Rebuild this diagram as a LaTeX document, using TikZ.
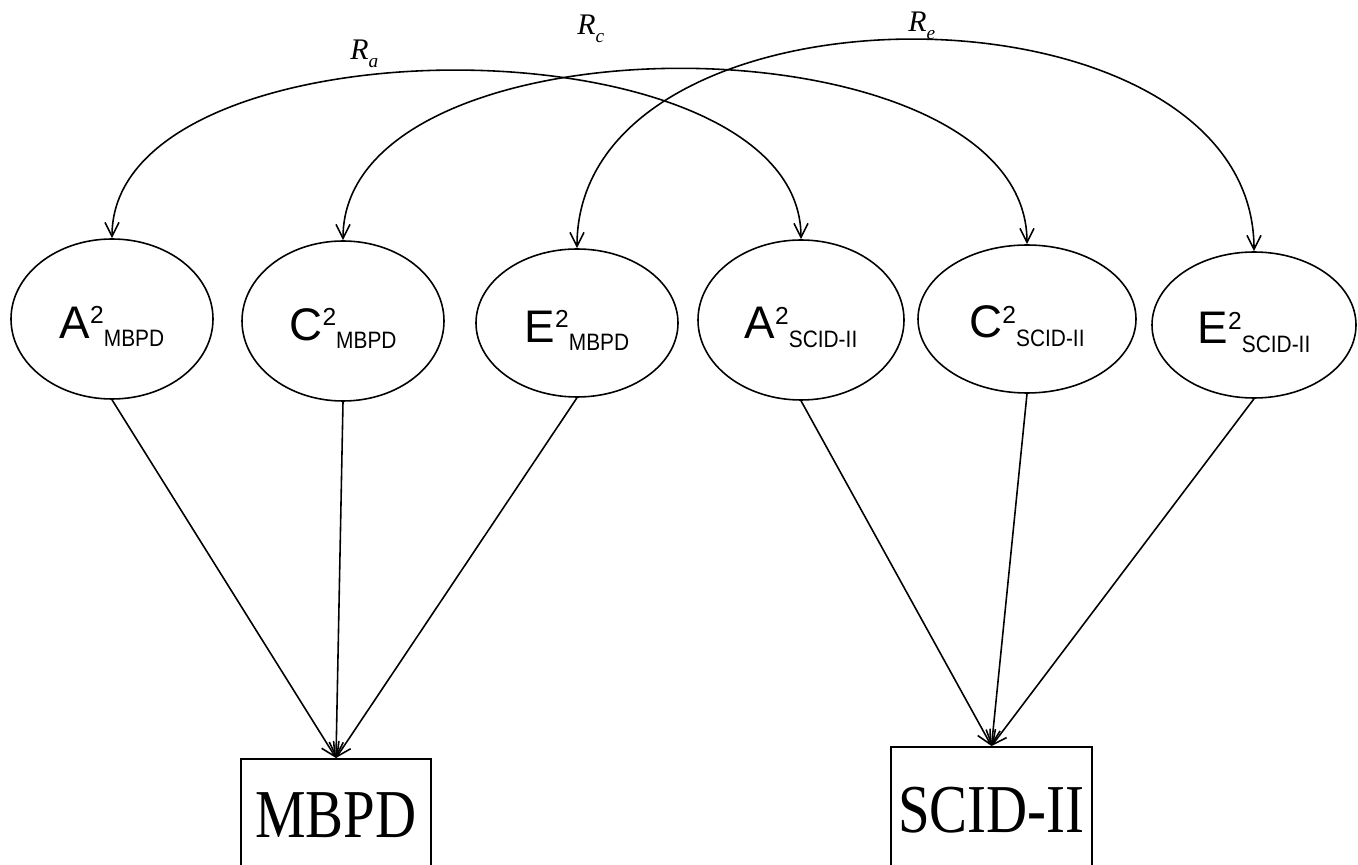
\documentclass[tikz,border=0pt]{standalone}
\usepackage{fontspec}
\setmainfont{Liberation Serif}
\setsansfont{Liberation Sans}
\usepackage{graphicx}
\usepackage{tikz}
\usetikzlibrary{positioning}
\usetikzlibrary{arrows.meta}
\usetikzlibrary{shapes}

% latent variance term: letter, superscript 2, subscript measure
\newcommand{\lat}[2]{\sffamily\rule{0pt}{26.7pt}{\fontsize{26}{26}\selectfont #1}\raisebox{8.3pt}{\fontsize{14}{14}\selectfont 2}\raisebox{-5pt}{\scalebox{0.88}[1]{\fontsize{13.5}{13.5}\selectfont #2}}}
% correlation label
\newcommand{\rlab}[1]{{\fontsize{17}{17}\selectfont\itshape R\raisebox{-4.5pt}{\fontsize{11}{11}\selectfont #1}}}
% observed measure
\newcommand{\obs}[1]{\scalebox{0.83}[1]{\fontsize{39}{39}\selectfont #1}}

\begin{document}
\begin{tikzpicture}
	\useasboundingbox (0,0) rectangle (27.16,-17.3);
	\clip (0,0) rectangle (27.16,-17.3);

	\begin{scope}[every node/.style={ellipse,draw,line width=0.9pt,inner sep=0pt,
	              minimum width=4.04cm, minimum height=3.2cm}]
	    \node (Ambpd) at (2.24,-6.38) {\lat{A}{MBPD}};
	    \node (Cmbpd) at (6.86,-6.42) {\lat{C}{MBPD}};
	    \node[minimum height=2.96cm] (Embpd) at (11.54,-6.46) {\lat{E}{MBPD}};
	    \node[minimum width=4.12cm] (Ascid) at (16.02,-6.40) {\lat{A}{SCID-II}};
	    \node[minimum width=4.36cm, minimum height=2.96cm] (Cscid) at (20.54,-6.38) {\lat{C}{SCID-II}};
	    \node[minimum width=4.08cm, minimum height=2.92cm] (Escid) at (25.08,-6.50) {\lat{E}{SCID-II}};
	\end{scope}

	\begin{scope}[every node/.style={rectangle,draw,line width=0.9pt,anchor=north}]
	    \node[minimum width=3.8cm, minimum height=2.26cm] (mbpd) at (6.72,-15.16) {\obs{MBPD}};
	    \node[minimum width=4.02cm, minimum height=2.52cm] (scid) at (19.83,-14.92) {\obs{SCID-II}};
	\end{scope}

	\node[anchor=base west, inner sep=0pt] (Ra) at (7.0,-1.2) {\rlab{a}};
	\node[anchor=base west, inner sep=0pt] (Rc) at (11.54,-0.7) {\rlab{c}};
	\node[anchor=base west, inner sep=0pt] (Re) at (18.16,-0.64) {\rlab{e}};

	\begin{scope}[>={Straight Barb[length=8pt,width=8pt]},
	              every edge/.style={draw=black,line width=0.9pt}]
    	\path [<->] (Ambpd.north) edge[out=90,in=90,distance=4.48cm] (Ascid.north);
    	\path [<->] (Cmbpd.north) edge[out=90,in=90,distance=4.62cm] (Cscid.north);
    	\path [<->] (Embpd.north) edge[out=90,in=90,distance=5.6cm] (Escid.north);

    	\path [->] (Ambpd.south) edge (mbpd.north);
    	\path [->] (Cmbpd.south) edge (mbpd.north);
    	\path [->] (Embpd.south) edge (mbpd.north);
    	\path [->] (Ascid.south) edge (scid.north);
    	\path [->] (Cscid.south) edge (scid.north);
    	\path [->] (Escid.south) edge (scid.north);
	\end{scope}
\end{tikzpicture}
\end{document}
